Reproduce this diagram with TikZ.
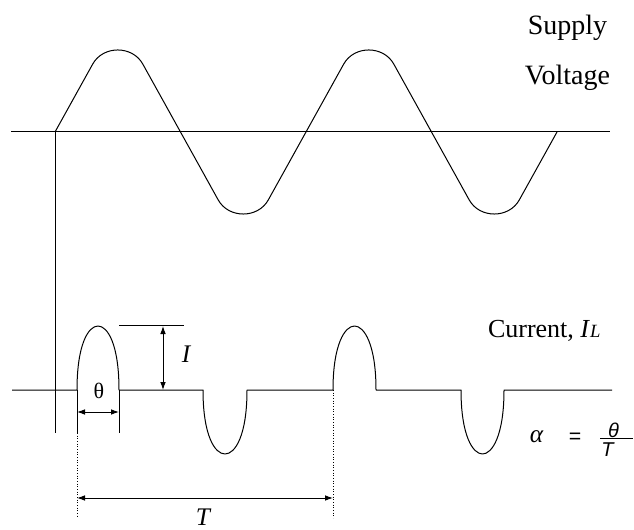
\documentclass[tikz,border=0pt]{standalone}
\usepackage{fontspec}
\setmainfont{Liberation Serif}
\newfontfamily\arialfont{Liberation Sans}
\usetikzlibrary{arrows.meta}
\begin{document}
\begin{tikzpicture}[x=0.75pt,y=-0.75pt,
  wave/.style={line width=0.75pt,line join=round},
  axisline/.style={line width=0.75pt},
  dimline/.style={line width=0.7pt,{Latex[length=6pt,width=4.2pt]}-{Latex[length=6pt,width=4.2pt]}},
  guide/.style={line width=0.6pt,dash pattern=on 0.8pt off 1.2pt},
  lbl/.style={inner sep=0pt,outer sep=0pt}]
\useasboundingbox (0,0) rectangle (634,530);
\fill[white] (0,0) rectangle (634,530);

% ---------- supply voltage ----------
\coordinate (vaL) at (11,132);
\coordinate (vaR) at (610,132);
\coordinate (v0) at (55,132);
\coordinate (vbot) at (55,433);
\draw[axisline] (vaL) -- (vaR);
\draw[axisline] (v0) -- (vbot);

\draw[wave] (v0) -- (92.75,64)
  .. controls (103.15,45.3) and (132.35,45.3) .. (142.75,64)
  -- (218.25,200)
  .. controls (228.65,218.7) and (257.85,218.7) .. (268.25,200)
  -- (343.75,64)
  .. controls (354.15,45.3) and (383.35,45.3) .. (393.75,64)
  -- (469.25,200)
  .. controls (479.65,218.7) and (508.85,218.7) .. (519.25,200)
  -- (557,132);

\node[lbl,anchor=base,font=\fontsize{21}{24}\selectfont] (supply) at (567.5,35) {Supply};
\node[lbl,anchor=base,font=\fontsize{21}{24}\selectfont] (voltage) at (567.5,85) {Voltage};

% ---------- load current ----------
\coordinate (caL) at (12,390);
\coordinate (p1a) at (77,390);
\coordinate (p1b) at (119,390);
\coordinate (n1a) at (203,390);
\coordinate (n1b) at (247,390);
\coordinate (p2a) at (333,390);
\coordinate (p2b) at (376,390);
\coordinate (n2a) at (461,390);
\coordinate (n2b) at (504,390);
\coordinate (caR) at (612,390);

\draw[wave] (caL) -- (p1a)
  .. controls (77,344) and (88.5,326) .. (98,326)
  .. controls (107.5,326) and (119,344) .. (p1b)
  -- (n1a)
  .. controls (203,436) and (215,454) .. (225,454)
  .. controls (235,454) and (247,436) .. (n1b)
  -- (p2a)
  .. controls (333,344) and (345,326) .. (354.5,326)
  .. controls (364,326) and (376,344) .. (p2b)
  -- (n2a)
  .. controls (461,436) and (473,454) .. (482.5,454)
  .. controls (492,454) and (504,436) .. (n2b)
  -- (caR);

% theta width
\coordinate (t1e) at (77,433);
\coordinate (t2e) at (119,433);
\coordinate (d1e) at (77,518);
\coordinate (d2e) at (333,518);
\draw[axisline] (p1a) -- (t1e);
\draw[axisline] (p1b) -- (t2e);
\draw[guide] (t1e) -- (d1e);
\draw[guide] (p2a) -- (d2e);
\coordinate (thA) at (77,412);
\coordinate (thB) at (119,412);
\draw[dimline] (thA) -- (thB);
\node[lbl,font=\fontsize{16.5}{18}\selectfont] (theta) at (99,391) {θ};

% amplitude I
\coordinate (iL) at (119,326);
\coordinate (iR) at (184,326);
\coordinate (iTop) at (163,326);
\coordinate (iBot) at (163,390);
\draw[axisline] (iL) -- (iR);
\draw[dimline] (iTop) -- (iBot);
\node[lbl,anchor=base,font=\fontsize{19}{22}\selectfont\itshape] (Ilbl) at (186,362) {I};

% period T
\coordinate (TA) at (77,498);
\coordinate (TB) at (333,498);
\draw[dimline] (TA) -- (TB);
\node[lbl,anchor=base,font=\fontsize{19}{22}\selectfont\itshape] (Tlbl) at (203,525) {T};

% current label
\node[lbl,anchor=base west,font=\fontsize{19.5}{22}\selectfont] (current) at (488,337)
  {Current, \textit{I}{\fontsize{14}{16}\selectfont\textit{L}}};

% duty ratio
\node[lbl,font=\fontsize{19}{22}\selectfont\itshape] (alpha) at (536.5,437) {α};
\node[lbl,font=\arialfont\fontsize{16}{18}\selectfont] (eq) at (575,438) {=};
\node[lbl,font=\arialfont\fontsize{15}{17}\selectfont\itshape] (fth) at (613.5,430) {θ};
\node[lbl,font=\arialfont\fontsize{15}{17}\selectfont\itshape] (fT) at (607.5,450) {T};
\coordinate (barL) at (600,438.5);
\coordinate (barR) at (633,438.5);
\draw[line width=0.6pt] (barL) -- (barR);
\end{tikzpicture}
\end{document}
